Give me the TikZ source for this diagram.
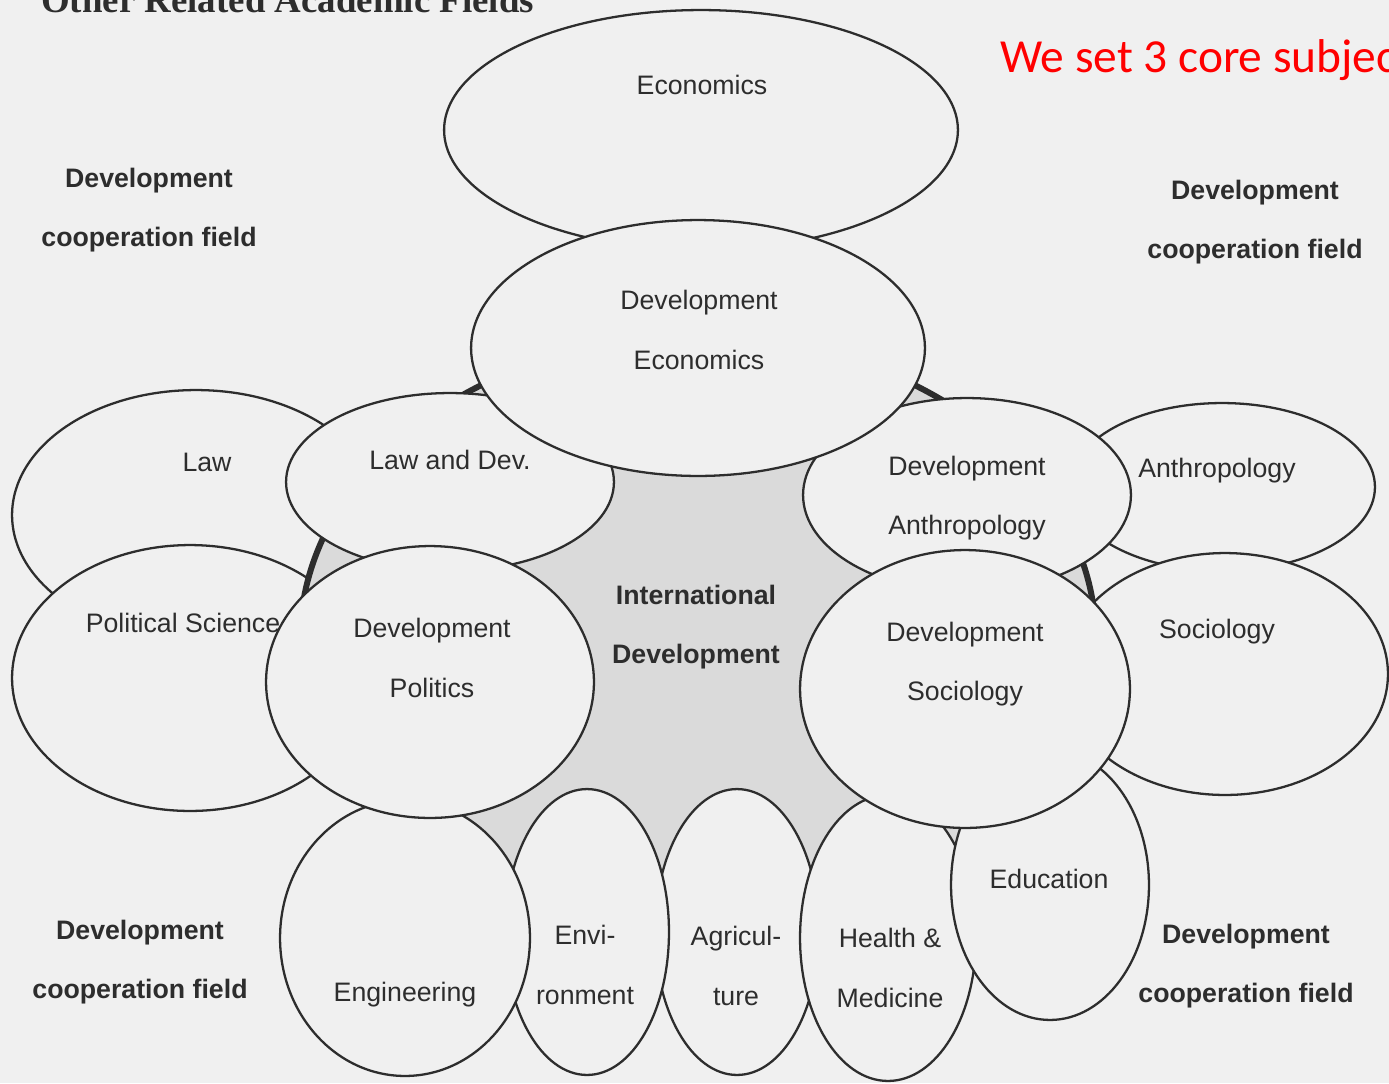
\documentclass[tikz,border=0pt]{standalone}
\usepackage{fontspec}
\setmainfont{Liberation Sans}
\newfontfamily\titlefont{Liberation Serif}
\newfontfamily\notefont{Carlito}
\usetikzlibrary{shapes.geometric}

\definecolor{paper}{RGB}{240,240,240}
\definecolor{coregray}{RGB}{218,218,218}
\definecolor{ink}{RGB}{45,45,45}

\begin{document}
\begin{tikzpicture}[x=0.02cm,y=-0.02cm]
	\useasboundingbox[fill=paper] (0,0) rectangle (1389,1083);

	\begin{scope}[every node/.style={ellipse,draw=ink,fill=paper,line width=1.3pt,inner sep=0pt},
				ellsize/.style 2 args={minimum width=#1*0.04cm,minimum height=#2*0.04cm},
				every label/.style={draw=none,fill=none,ellipse=false,align=center,text=ink,font=\fontsize{15.2}{34}\selectfont}]
		% related academic fields, partly under the core
		\node[ellsize={184}{125},label={[shift={(11,-53)}]center:Law}] (law) at (196,515) {};
		\node[ellsize={178}{133},label={[shift={(-7,-55)}]center:Political Science}] (polsci) at (190,678) {};
		\node[ellsize={153}{84},label={[shift={(-5,-16)}]center:Anthropology}] (anthro) at (1222,487) {};
		\node[ellsize={163}{121},label={[shift={(-8,-42)}]center:Sociology}] (socio) at (1225,674) {};
		% core field
		\node[fill=coregray,line width=3.4pt,ellsize={398}{304},
			label={[font=\bfseries\fontsize{15.2}{34}\selectfont,shift={(-2,-13)}]center:International\\Development}] (intl) at (698,640) {};
		\node[ellsize={257}{120},label={[shift={(1,-45)}]center:Economics}] (econ) at (701,130) {};
		% development fields, upper half
		\node[ellsize={164}{89},label={[shift={(0,-22)}]center:Law and Dev.}] (lawdev) at (450,482) {};
		\node[ellsize={164}{97},label={[shift={(0,3)}]center:Development\\Anthropology}] (devanthro) at (967,495) {};
		\node[ellsize={227}{128},label={[shift={(1,-18)}]center:Development\\Economics}] (devecon) at (698,348) {};
		% lower fields
		\node[ellsize={82}{143},label={[shift={(-1,34)}]center:Agricul-\\ture}] (agri) at (737,932) {};
		\node[ellsize={82}{143},label={[shift={(-2,33)}]center:Envi-\\ronment}] (envi) at (587,932) {};
		\node[ellsize={125}{138},label={[shift={(0,57)}]center:Engineering}] (eng) at (405,938) {};
		\node[ellsize={88}{143},label={[shift={(2,30)}]center:Health \&\\Medicine}] (health) at (888,938) {};
		\node[ellsize={99}{135},label={[shift={(-1,-6)}]center:Education}] (edu) at (1050,885) {};
		% development fields, lower half
		\node[ellsize={164}{136},label={[shift={(2,-24)}]center:Development\\Politics}] (devpol) at (430,682) {};
		\node[ellsize={165}{139},label={[shift={(0,-25)}]center:Development\\Sociology}] (devsoc) at (965,689) {};
	\end{scope}

	\begin{scope}[every node/.style={align=center,text=ink,font=\bfseries\fontsize{15.2}{34}\selectfont}]
		% cooperation fields in the corners
		\node (coopnw) at (149,210) {Development\\cooperation field};
		\node (coopne) at (1255,222) {Development\\cooperation field};
		\node (coopsw) at (140,962) {Development\\cooperation field};
		\node (coopse) at (1246,966) {Development\\cooperation field};
	\end{scope}

	\node[anchor=base west,text=ink,font=\titlefont\bfseries\fontsize{21}{25}\selectfont] (title) at (35,12) {Other Related Academic Fields};
	\node[anchor=base west,text=red,font=\notefont\fontsize{27}{32}\selectfont] (note) at (994,72) {We set 3 core subjec};
\end{tikzpicture}
\end{document}
